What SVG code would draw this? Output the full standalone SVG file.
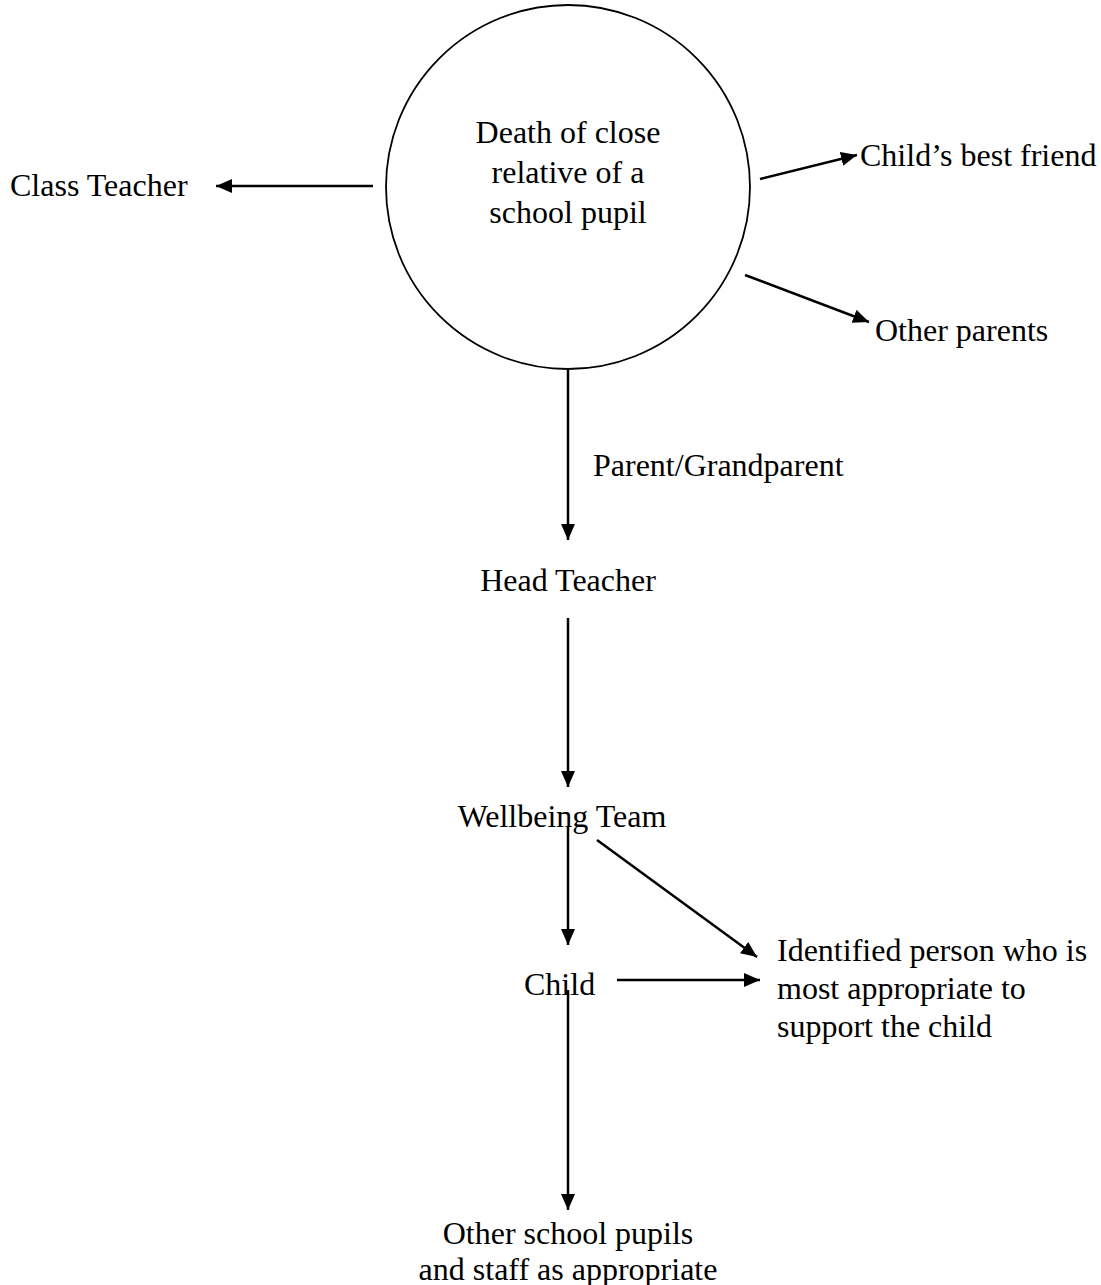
<svg xmlns="http://www.w3.org/2000/svg" width="1101" height="1285" viewBox="0 0 1101 1285">
<style>
text{font-family:"Liberation Serif","Times New Roman",serif;font-size:32px;fill:#000}
.c{text-anchor:middle}
.ln{stroke:#000;stroke-width:2.5;fill:none;marker-end:url(#ah)}
</style>
<defs>
<marker id="ah" viewBox="0 0 10 10" refX="10" refY="5" markerWidth="6.4" markerHeight="5.6" markerUnits="strokeWidth" orient="auto" preserveAspectRatio="none">
<path d="M0,0 L10,5 L0,10 z" fill="#000"/>
</marker>
</defs>
<rect width="1101" height="1285" fill="#fff"/>
<g id="event">
<circle cx="568" cy="187" r="182" fill="none" stroke="#000" stroke-width="1.8"/>
<text class="c" x="568" y="143">Death of close</text>
<text class="c" x="568" y="183">relative of a</text>
<text class="c" x="568" y="223">school pupil</text>
</g>
<g id="classteacher"><text x="10" y="196">Class Teacher</text></g>
<g id="bestfriend"><text x="860" y="166">Child’s best friend</text></g>
<g id="otherparents"><text x="875" y="341">Other parents</text></g>
<g id="parentlabel"><text x="593" y="476">Parent/Grandparent</text></g>
<g id="headteacher"><text class="c" x="568" y="591">Head Teacher</text></g>
<g id="wellbeing"><text class="c" x="562" y="827">Wellbeing Team</text></g>
<g id="child"><text x="524" y="995">Child</text></g>
<g id="identified">
<text x="777" y="961">Identified person who is</text>
<text x="777" y="999">most appropriate to</text>
<text x="777" y="1037">support the child</text>
</g>
<g id="others">
<text class="c" x="568" y="1244">Other school pupils</text>
<text class="c" x="568" y="1280">and staff as appropriate</text>
</g>
<g id="connectors">
<line class="ln" x1="373" y1="186" x2="216" y2="186"/>
<line class="ln" x1="760" y1="179" x2="857" y2="155"/>
<line class="ln" x1="745" y1="275" x2="869" y2="322"/>
<line class="ln" x1="568" y1="370" x2="568" y2="540"/>
<line class="ln" x1="568" y1="618" x2="568" y2="787"/>
<line class="ln" x1="568" y1="826" x2="568" y2="945"/>
<line class="ln" x1="597" y1="840" x2="757" y2="957"/>
<line class="ln" x1="617" y1="980" x2="760" y2="980"/>
<line class="ln" x1="568" y1="990" x2="568" y2="1210"/>
</g>
</svg>
